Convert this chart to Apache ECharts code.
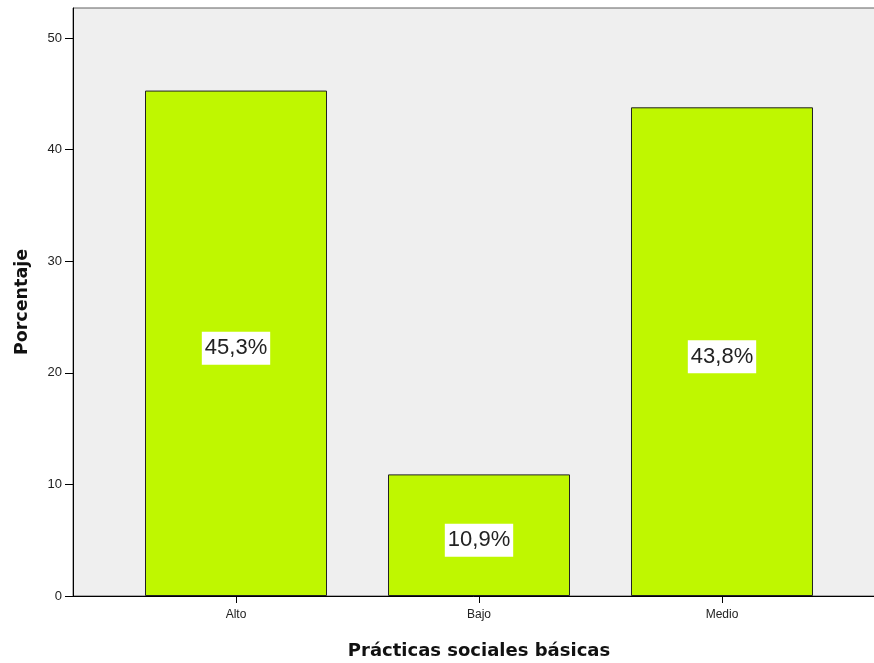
<!DOCTYPE html>
<html>
<head>
<meta charset="utf-8">
<script src="https://cdn.jsdelivr.net/npm/echarts@6/dist/echarts.min.js"></script>
<style>
html,body{margin:0;padding:0;background:#fff;}
#c{width:874px;height:663px;}
</style>
</head>
<body>
<div id="c"></div>
<script>
const categories = ['Alto', 'Bajo', 'Medio'];
const percentages = [45.3, 10.9, 43.8];
const labels = ['45,3%', '10,9%', '43,8%'];
const yTicks = [0, 10, 20, 30, 40, 50];
const xName = 'Prácticas sociales básicas';
const yName = 'Porcentaje';

const font = 'Arial, "Liberation Sans", sans-serif';
const titleFont = '"DejaVu Sans", Arial, sans-serif';
const positions = categories.map((c, i) => i + 1);
const chart = echarts.init(document.getElementById('c'), null, {renderer: 'canvas'});
chart.setOption({
  animation: false,
  grid: {left: 73, top: 8, width: 812, height: 588, show: true,
         outerBoundsMode: 'none', containLabel: false,
         backgroundColor: '#efefef', borderColor: '#606060', borderWidth: 1},
  xAxis: {
    type: 'value', min: 0.3292, max: 3.6708,
    name: xName, nameLocation: 'middle', nameGap: 46,
    nameTextStyle: {fontFamily: titleFont, fontWeight: 'bold', fontSize: 18, color: '#111'},
    splitLine: {show: false},
    axisLine: {show: true, lineStyle: {color: '#000', width: 1}},
    axisTick: {show: true, length: 7, customValues: positions, lineStyle: {color: '#000'}},
    axisLabel: {customValues: positions, margin: 13, fontFamily: font, fontSize: 12, color: '#222',
                formatter: v => categories[Math.round(v) - 1] || ''}
  },
  yAxis: {
    type: 'value', min: 0, max: 52.7,
    name: yName, nameLocation: 'middle', nameGap: 42,
    nameTextStyle: {fontFamily: titleFont, fontWeight: 'bold', fontSize: 17.5, color: '#111'},
    splitLine: {show: false},
    axisLine: {show: true, lineStyle: {color: '#000', width: 1}},
    axisTick: {show: true, length: 8, customValues: yTicks, lineStyle: {color: '#000'}},
    axisLabel: {customValues: yTicks, margin: 11, fontFamily: font, fontSize: 13, color: '#222'}
  },
  series: [{
    type: 'bar',
    barWidth: 182,
    data: positions.map((p, i) => [p, percentages[i]]),
    itemStyle: {color: '#bff700', borderColor: '#222', borderWidth: 1},
    label: {
      show: true, position: 'inside', offset: [0, 5],
      formatter: p => labels[p.dataIndex],
      fontFamily: font, fontSize: 22, color: '#222',
      backgroundColor: '#ffffff', padding: [6, 3, 5, 3]
    }
  }]
});
</script>
</body>
</html>
